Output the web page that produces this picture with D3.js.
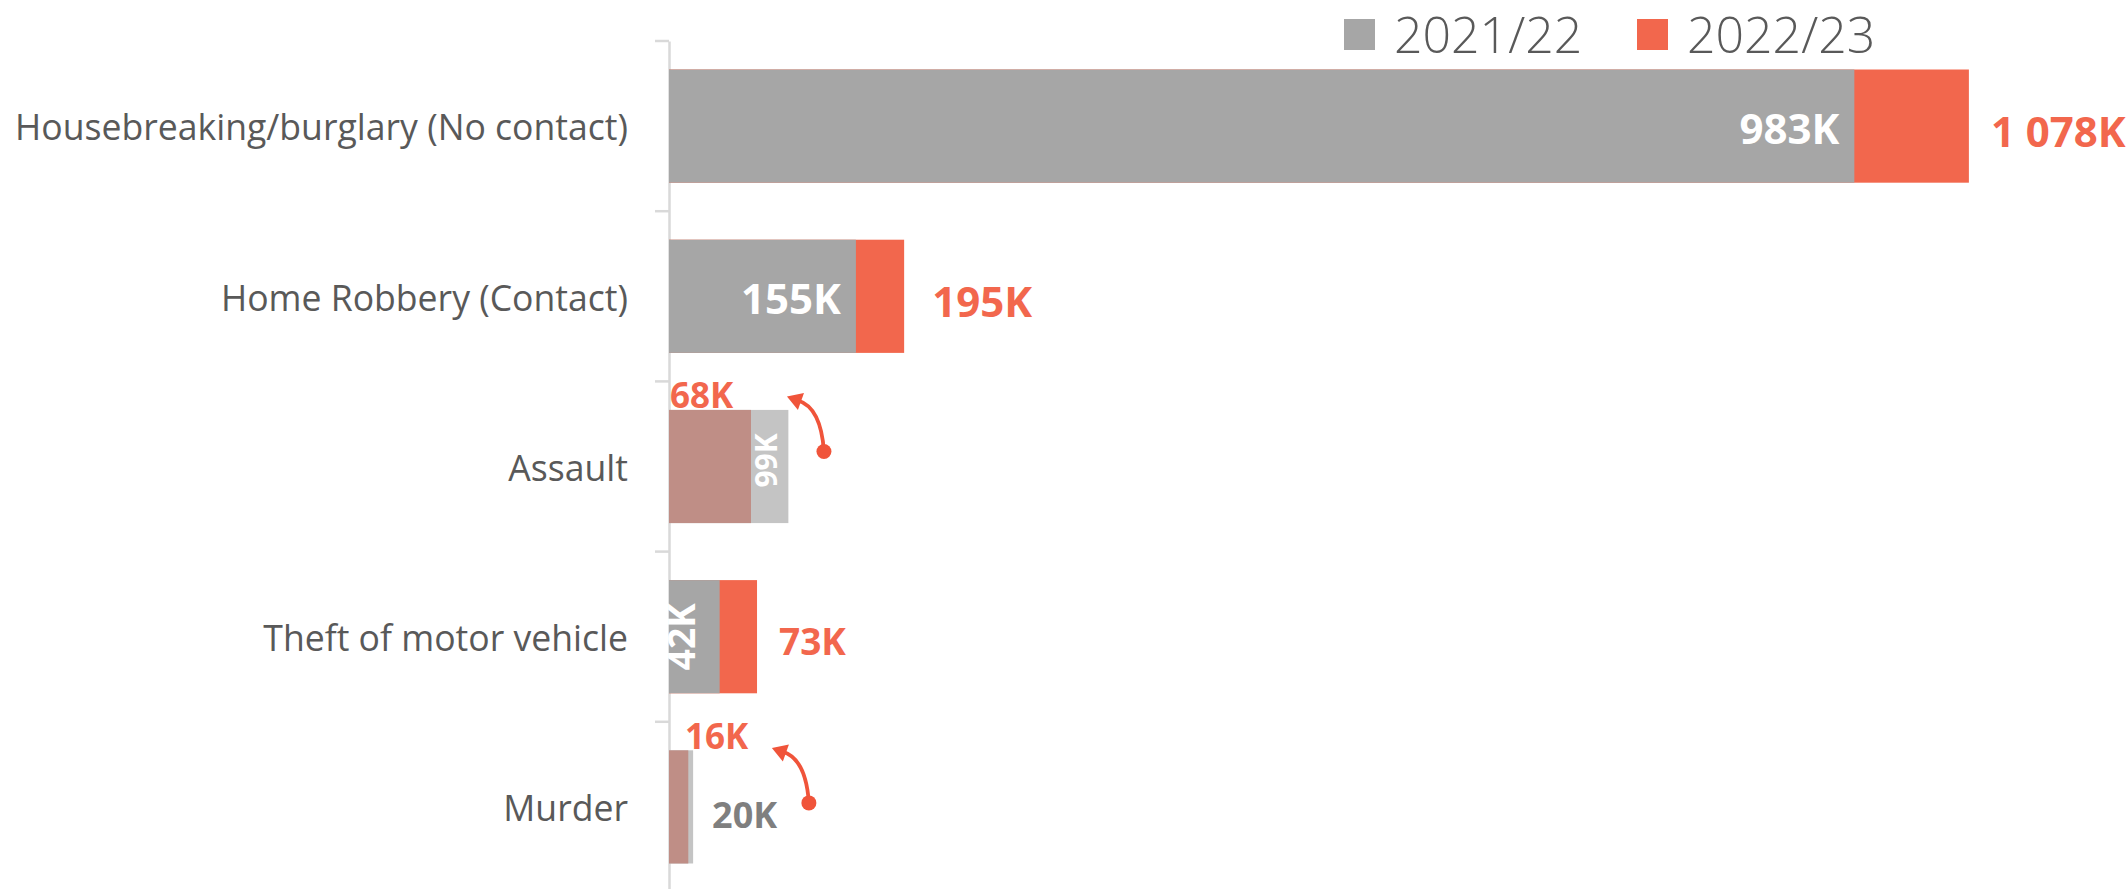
<!DOCTYPE html>
<html><head><meta charset="utf-8">
<script src="https://cdn.jsdelivr.net/npm/d3@7"></script>
<style>body{margin:0;background:#fff;} text{font-family:"Open Sans",sans-serif;}</style>
</head><body><svg id="c" width="2128" height="889"></svg>
<script>
// ---- data ----
const categories = ["Housebreaking/burglary (No contact)", "Home Robbery (Contact)", "Assault", "Theft of motor vehicle", "Murder"];
const values2122 = [983, 155, 99, 42, 20];
const values2223 = [1078, 195, 68, 73, 16];
const seriesNames = ["2021/22", "2022/23"];
// annotation arrows (value-axis position of the arrow's dot)
const arrowCategories = ["Assault", "Murder"];
const arrowValues = [128.5, 116];

// ---- styles ----
const GREY = "#A6A6A6", RED = "#F2674D", LIGHTGREY = "#C4C4C4", BROWN = "#BF8E86";
const ARROW = "#F0543A", TEXT = "#595959";

const svg = d3.select("#c");
const fmt = d3.formatLocale({decimal: ".", thousands: " ", grouping: [3], currency: ["", ""]}).format(",");
const lbl = v => fmt(v) + "K";

const x = d3.scaleLinear().domain([0, 1200]).range([669, 2116]);
const y = d3.scaleBand().domain(categories).range([41, 892]).paddingInner(0.335).paddingOuter(0.1675);
const bw = y.bandwidth();
const gap = (y.step() - bw) / 2;

// axis (category labels + line)
const ax = svg.append("g").attr("transform", `translate(${x(0)},0)`)
  .call(d3.axisLeft(y).tickSize(0).tickSizeOuter(0).tickPadding(41));
ax.select(".domain").attr("stroke", "#D9D9D9").attr("stroke-width", 2.5);
ax.selectAll("text").attr("fill", TEXT).style("font-size", "35.6px").attr("dy", "0.4em")
  .style("font-family", '"Open Sans", sans-serif');
// tick marks between categories
svg.append("g").selectAll("line").data(categories).join("line")
  .attr("x1", x(0) - 14).attr("x2", x(0))
  .attr("y1", d => y(d) - gap).attr("y2", d => y(d) - gap)
  .attr("stroke", "#D9D9D9").attr("stroke-width", 2.5);

// bars
const rows = categories.map((c, i) => ({c, i, a: values2122[i], b: values2223[i], up: values2223[i] >= values2122[i]}));
const g = svg.append("g");
rows.forEach(r => {
  const top = y(r.c);
  if (r.up) {
    g.append("rect").attr("x", x(0)).attr("y", top).attr("width", x(r.b) - x(0)).attr("height", bw).attr("fill", RED);
    g.append("rect").attr("x", x(0)).attr("y", top).attr("width", x(r.a) - x(0)).attr("height", bw).attr("fill", GREY);
  } else {
    g.append("rect").attr("x", x(0)).attr("y", top).attr("width", x(r.a) - x(0)).attr("height", bw).attr("fill", LIGHTGREY);
    g.append("rect").attr("x", x(0)).attr("y", top).attr("width", x(r.b) - x(0)).attr("height", bw).attr("fill", BROWN);
  }
});

// labels
const L = svg.append("g").style("font-weight", 700);
function txt(xp, yp, s, size, fill, anchor) {
  return L.append("text").attr("x", xp).attr("y", yp).text(s).attr("fill", fill)
    .attr("text-anchor", anchor || "start").style("font-size", size + "px");
}
function rot(xp, yp, s, size, fill) {
  return L.append("text").attr("transform", `translate(${xp},${yp}) rotate(-90)`).text(s).attr("fill", fill)
    .attr("text-anchor", "middle").style("font-size", size + "px");
}
rows.forEach(r => {
  const cy = y(r.c) + bw / 2, top = y(r.c);
  if (r.up) {
    const big = r.i < 2;
    const fs = big ? 42 : 37;
    if (x(r.a) - x(0) > 120) txt(x(r.a) - 15, cy + 0.43 * fs, lbl(r.a), fs, "#fff", "end");
    else rot(x(0) + 26, cy, lbl(r.a), fs, "#fff");
    txt(x(r.b) + (r.i === 1 ? 28 : 22), cy + 0.5 * fs, lbl(r.b), fs, RED, "start");
  } else {
    if (r.c === "Assault") {
      txt(x(0) + 1, top - 2, lbl(r.b), 35, RED, "start");
      rot(x(r.a) - 11, cy - 6, lbl(r.a), 30, "#fff");
    } else {
      txt(x(0) + 16, top - 1, lbl(r.b), 35, RED, "start");
      txt(x(r.a) + 19, cy + 21, lbl(r.a), 36, "#7F7F7F", "start");
    }
  }
});

// arrows
const dotDy = {"Assault": -15, "Murder": -4};
arrowCategories.forEach((c, k) => {
  const D = [x(arrowValues[k]), y(c) + bw / 2 + dotDy[c]];
  const B = [D[0] - 23, D[1] - 50];
  const T = [D[0] - 37, D[1] - 55];
  const C = [D[0] - 3, D[1] - 44];
  const dx = T[0] - B[0], dy = T[1] - B[1], len = Math.hypot(dx, dy);
  const px = -dy / len * 9, py = dx / len * 9;
  svg.append("path").attr("d", `M${D[0]},${D[1]} Q${C[0]},${C[1]} ${B[0] + dx / len * 3},${B[1] + dy / len * 3}`)
    .attr("fill", "none").attr("stroke", ARROW).attr("stroke-width", 3.8);
  svg.append("path").attr("d", `M${T[0]},${T[1]} L${B[0] + px},${B[1] + py} L${B[0] - px},${B[1] - py} Z`).attr("fill", ARROW);
  svg.append("circle").attr("cx", D[0]).attr("cy", D[1]).attr("r", 7.5).attr("fill", ARROW);
});

// legend
const leg = svg.append("g");
const legColors = [GREY, RED];
const legX = [1344, 1637];
seriesNames.forEach((s, i) => {
  leg.append("rect").attr("x", legX[i]).attr("y", 19).attr("width", 31).attr("height", 31).attr("fill", legColors[i]);
  leg.append("text").attr("x", legX[i] + 50).attr("y", 53).text(s).attr("fill", TEXT)
    .style("font-size", "50px").style("font-weight", 300);
});
</script></body></html>
